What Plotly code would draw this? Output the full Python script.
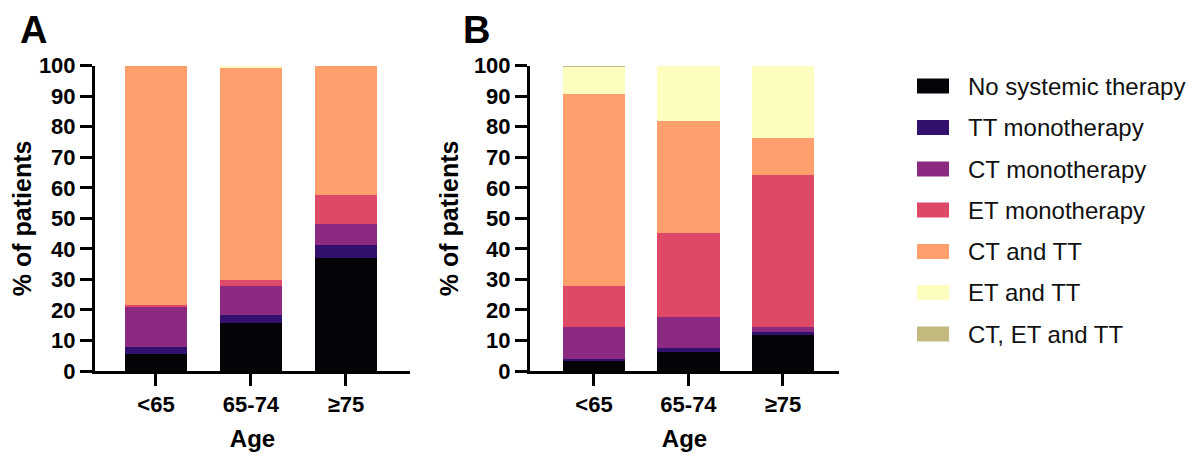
import plotly.graph_objects as go

# data (% of patients)
age_groups = ["<65", "65-74", "≥75"]
therapies = ["No systemic therapy", "TT monotherapy", "CT monotherapy",
             "ET monotherapy", "CT and TT", "ET and TT", "CT, ET and TT"]
colours = ["#050308", "#32106e", "#8c2981", "#de4968", "#fe9f6d", "#fdfdbf", "#c2b97f"]

# panel A
no_sys_A = [5.7, 15.8, 37.1]
tt_mono_A = [2.0, 2.5, 4.2]
ct_mono_A = [13.4, 9.7, 6.8]
et_mono_A = [0.6, 1.8, 9.6]
ct_tt_A = [78.3, 69.6, 42.3]
et_tt_A = [0.0, 0.3, 0.0]
ct_et_tt_A = [0.0, 0.0, 0.0]

# panel B
no_sys_B = [3.6, 6.3, 11.8]
tt_mono_B = [0.4, 1.1, 1.1]
ct_mono_B = [10.5, 10.4, 1.6]
et_mono_B = [13.5, 27.3, 49.8]
ct_tt_B = [62.7, 36.8, 11.9]
et_tt_B = [9.1, 18.1, 23.8]
ct_et_tt_B = [0.2, 0.0, 0.0]

panel_A = [no_sys_A, tt_mono_A, ct_mono_A, et_mono_A, ct_tt_A, et_tt_A, ct_et_tt_A]
panel_B = [no_sys_B, tt_mono_B, ct_mono_B, et_mono_B, ct_tt_B, et_tt_B, ct_et_tt_B]

# page has an 8px body margin, so the figure is a bit smaller than the window
OFF = 8
W, H = 1200 - OFF, 458 - OFF
FONT = "Arial, Liberation Sans, sans-serif"


def px(x):
    return (x - OFF) / W


def py(y):
    return 1 - (y - OFF) / H


fig = go.Figure()

for vals, name, col in zip(panel_A, therapies, colours):
    fig.add_trace(go.Bar(x=age_groups, y=vals, name=name, marker_color=col,
                         marker_line_width=0, width=0.66, showlegend=False,
                         xaxis="x", yaxis="y"))
for vals, name, col in zip(panel_B, therapies, colours):
    fig.add_trace(go.Bar(x=age_groups, y=vals, name=name, marker_color=col,
                         marker_line_width=0, width=0.66, showlegend=False,
                         xaxis="x2", yaxis="y2"))

axis_common = dict(showline=True, linecolor="black", linewidth=3,
                   ticks="outside", ticklen=12, tickwidth=3, tickcolor="black",
                   showgrid=False, zeroline=False, automargin=False,
                   tickfont=dict(family=FONT, size=22, color="black", weight="bold"))
title_font = dict(family=FONT, size=25, color="black", weight="bold")

xa = dict(axis_common, type="category",
          title=dict(text="Age", font=dict(title_font, size=24), standoff=14))
ya = dict(axis_common, range=[0, 100], tickvals=list(range(0, 101, 10)))

fig.update_layout(
    width=W, height=H,
    margin=dict(l=0, r=0, t=0, b=0, autoexpand=False),
    paper_bgcolor="white", plot_bgcolor="white",
    barmode="stack", bargap=0.34,
    xaxis=dict(xa, domain=[px(95), px(410)], range=[-0.642, 2.674], anchor="y"),
    yaxis=dict(ya, domain=[py(371), py(65.7)], anchor="x",
               title=dict(text="% of patients", font=title_font, standoff=15)),
    xaxis2=dict(xa, domain=[px(530), px(839)], range=[-0.677, 2.593], anchor="y2"),
    yaxis2=dict(ya, domain=[py(371), py(65.7)], anchor="x2",
                title=dict(text="% of patients", font=title_font, standoff=9)),
)

# panel letters (kept inside the page so nothing is clipped)
for letter, xpos in [("A", 19), ("B", 462)]:
    fig.add_annotation(text=letter, xref="paper", yref="paper", x=px(xpos), y=py(8),
                       xanchor="left", yanchor="top", showarrow=False, borderpad=0,
                       font=dict(family=FONT, size=38, color="black", weight="bold"))

# legend drawn as swatches and labels
row_y = [86, 127.5, 169, 210, 251.5, 292.5, 334]
for name, col, yc in zip(therapies, colours, row_y):
    fig.add_shape(type="rect", xref="paper", yref="paper",
                  x0=px(917), x1=px(949), y0=py(yc + 7.5), y1=py(yc - 7.5),
                  fillcolor=col, line_width=0)
    fig.add_annotation(text=name, xref="paper", yref="paper", x=px(966), y=py(yc),
                       xanchor="left", yanchor="middle", showarrow=False,
                       font=dict(family=FONT, size=24, color="#111111"))

fig.write_html("out.html")
